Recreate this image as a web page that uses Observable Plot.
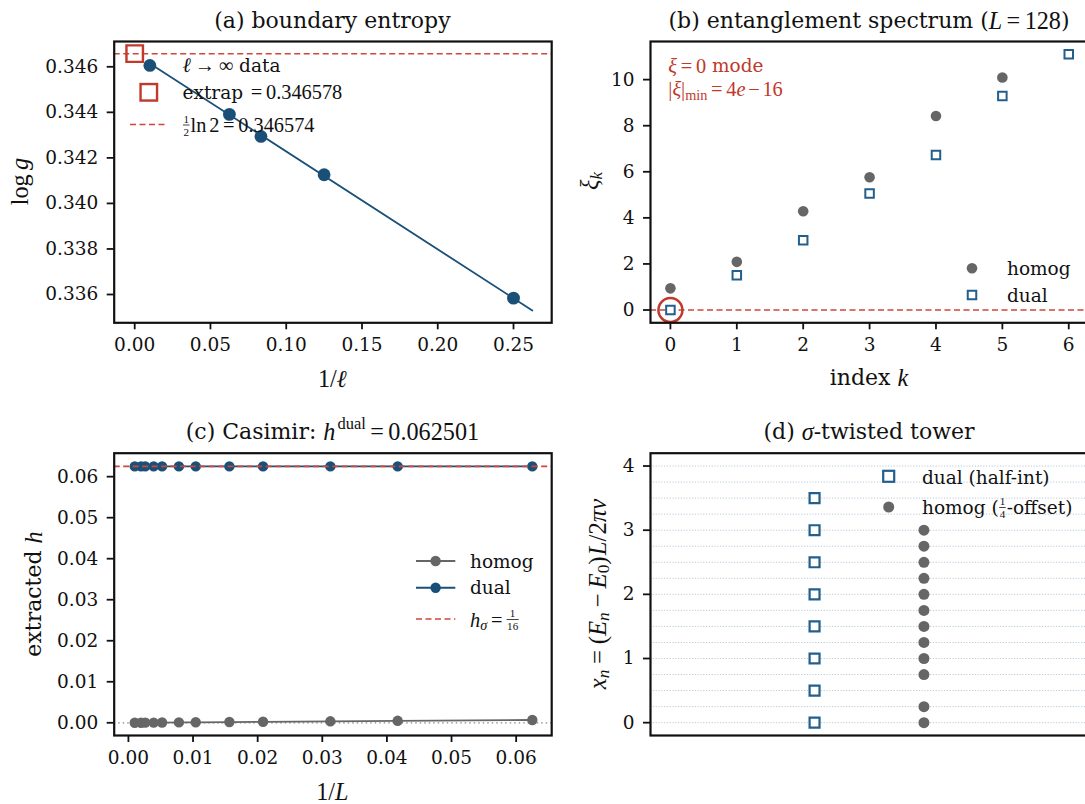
<!DOCTYPE html>
<html><head><meta charset="utf-8">
<script src="https://cdn.jsdelivr.net/npm/d3@7"></script>
<script src="https://cdn.jsdelivr.net/npm/@observablehq/plot@0.6"></script>
<style>
html,body{margin:0;padding:0;background:#fff;overflow:hidden;width:1085px;height:804px}
#fig{position:relative;width:1085px;height:804px;overflow:hidden;background:#fff}
.panel{position:absolute}
.rt{white-space:pre}
</style></head><body><div id="fig"></div>
<script>
// ---------- data ----------
// (a) boundary entropy
const invEll = [0.01, 0.0625, 0.08333, 0.125, 0.25];
const logG = [0.34606, 0.34391, 0.34294, 0.34126, 0.33584];
const fitX = [0.01, 0.2624];
const fitY = [0.34615, 0.33530];
const extrapX = [0];
const extrapY = [0.346578];
const halfLn2 = [0.346574];
const xTicksA = [0, 0.05, 0.10, 0.15, 0.20, 0.25];
const yTicksA = [0.336, 0.338, 0.340, 0.342, 0.344, 0.346];
// (b) entanglement spectrum
const kHomog = [0, 1, 2, 3, 4, 5];
const xiHomog = [0.94, 2.09, 4.29, 5.76, 8.42, 10.09];
const kDual = [0, 1, 2, 3, 4, 5, 6];
const xiDual = [0, 1.51, 3.03, 5.06, 6.73, 9.29, 11.10];
const xTicksB = [0, 1, 2, 3, 4, 5, 6];
const yTicksB = [0, 2, 4, 6, 8, 10];
// (c) Casimir
const sizesL = [16, 24, 32, 48, 64, 96, 128, 192, 256, 384, 512, 1024];
const hHomog = [0.00068, 0.00048, 0.00036, 0.00024, 0.00018, 0.00012, 0.00009, 0.00006, 0.00005, 0.00003, 0.00002, 0.00001];
const hDual = [0.062503, 0.062502, 0.062501, 0.062501, 0.0625, 0.0625, 0.0625, 0.0625, 0.0625, 0.0625, 0.0625, 0.0625];
const hSigma = [0.0625];
const xTicksC = [0, 0.01, 0.02, 0.03, 0.04, 0.05, 0.06];
const yTicksC = [0, 0.01, 0.02, 0.03, 0.04, 0.05, 0.06];
// (d) sigma-twisted tower
const towerDual = [0, 0.5, 1, 1.5, 2, 2.5, 3, 3.5];
const towerHomog = [0, 0.25, 0.75, 1, 1.25, 1.5, 1.75, 2, 2.25, 2.5, 2.75, 3];
const towerColumns = {dual: 0, homog: 1};
const gridD = [0, 0.25, 0.5, 0.75, 1, 1.25, 1.5, 1.75, 2, 2.25, 2.5, 2.75, 3, 3.25, 3.5, 3.75, 4];
const yTicksD = [0, 1, 2, 3, 4];

// ---------- style ----------
const BLUE = "#1a5078", BLUE2 = "#235f8c", GRAY = "#666666", RED = "#c0392b", REDD = "#d0463b", INK = "#111";
const TEXTF = '"DejaVu Serif", serif';
const MATHF = '"Liberation Serif", "DejaVu Serif", serif';
const NS = "http://www.w3.org/2000/svg";
const fig = document.getElementById("fig");
const TS = 7, XP = 8, YP = 9;

function mount(plot, left, top, w, h) {
  const d = document.createElement("div");
  d.className = "panel";
  d.style.left = left + "px"; d.style.top = top + "px";
  d.style.width = w + "px"; d.style.height = h + "px";
  d.appendChild(plot);
  fig.appendChild(d);
  plot.style.maxWidth = "none";
  d3.select(plot).selectAll('[aria-label$="axis"] path, [aria-label$="axis"] line, [aria-label$="tick"] path, [aria-label$="tick"] line')
    .attr("stroke-width", 1.8).attr("stroke", INK);
  return {svg: plot, ox: left, oy: top};
}
const baseStyle = {fontFamily: TEXTF, fontSize: "18.5px", background: "transparent", overflow: "visible", color: INK};

function el(name, attrs, parent) {
  const e = document.createElementNS(NS, name);
  for (const k in attrs) e.setAttribute(k, attrs[k]);
  parent.appendChild(e);
  return e;
}
function txt(g, t, attrs) {
  const e = el("text", Object.assign({"text-anchor": "start", "dominant-baseline": "central", class: "rt"}, attrs), g);
  e.textContent = t;
  return e;
}
function rich(P, gx, gy, segs, o = {}) {
  const size = o.size || 18.5, anchor = o.anchor || "start", color = o.color || INK;
  const g = el("g", {"text-anchor": "start"}, P.svg);
  let x = 0;
  for (const s of segs) {
    if (s.sp !== undefined) { x += s.sp * size; continue; }
    if (s.frac) {
      const fs = size * 0.6;
      const n = txt(g, s.frac[0], {"font-family": MATHF, "font-size": fs, fill: color, y: -size * 0.33});
      const d = txt(g, s.frac[1], {"font-family": MATHF, "font-size": fs, fill: color, y: size * 0.37});
      const wn = n.getComputedTextLength(), wd = d.getComputedTextLength(), w = Math.max(wn, wd);
      n.setAttribute("x", x + 1 + (w - wn) / 2);
      d.setAttribute("x", x + 1 + (w - wd) / 2);
      el("line", {x1: x + 0.5, x2: x + w + 1.5, y1: 0, y2: 0, stroke: color, "stroke-width": 0.8}, g);
      x += w + 2.5; continue;
    }
    const fs = size * (s.k || 1) * (s.m ? 1.1 : 1);
    const e = txt(g, s.t, {"font-family": s.m ? MATHF : TEXTF, "font-size": fs, fill: color, x: x, y: (s.dy || 0) * size});
    if (s.i) e.setAttribute("font-style", "italic");
    x += e.getComputedTextLength();
  }
  const shift = anchor === "middle" ? -x / 2 : anchor === "end" ? -x : 0;
  const tx = gx - P.ox, ty = gy - P.oy;
  if (o.rotate) g.setAttribute("transform", `translate(${tx},${ty}) rotate(-90) translate(${shift},0)`);
  else g.setAttribute("transform", `translate(${tx + shift},${ty})`);
}
function circleM(P, gx, gy, r, fill) { el("circle", {cx: gx - P.ox, cy: gy - P.oy, r, fill}, P.svg); }
function squareM(P, gx, gy, side, stroke, sw, fill = "none") { el("rect", {x: gx - P.ox - side / 2, y: gy - P.oy - side / 2, width: side, height: side, stroke, "stroke-width": sw, fill}, P.svg); }
function lineM(P, x1, x2, gy, stroke, sw, dash) { const l = el("line", {x1: x1 - P.ox, x2: x2 - P.ox, y1: gy - P.oy, y2: gy - P.oy, stroke, "stroke-width": sw}, P.svg); if (dash) l.setAttribute("stroke-dasharray", dash); }

// ---------- panel (a) ----------
const dataA = invEll.map((x, i) => ({x, y: logG[i]}));
const fitA = fitX.map((x, i) => ({x, y: fitY[i]}));
const extA = extrapX.map((x, i) => ({x, y: extrapY[i]}));
const plotA = Plot.plot({
  width: 560, height: 400, marginLeft: 113.7, marginRight: 8.8, marginTop: 41, marginBottom: 77.7,
  x: {domain: [-0.01353, 0.2752], ticks: xTicksA, tickFormat: d3.format(".2f"), tickSize: TS, tickPadding: XP, label: null},
  y: {domain: [0.334757, 0.347111], ticks: yTicksA, tickFormat: d3.format(".3f"), tickSize: TS, tickPadding: YP, label: null},
  style: baseStyle,
  marks: [
    Plot.ruleY(halfLn2, {stroke: REDD, strokeWidth: 1.7, strokeDasharray: "6,3.5"}),
    Plot.line(fitA, {x: "x", y: "y", stroke: BLUE, strokeWidth: 1.8}),
    Plot.dot(dataA, {x: "x", y: "y", r: 6.4, fill: BLUE}),
    Plot.dot(extA, {x: "x", y: "y", symbol: "square", r: 9.3, stroke: RED, strokeWidth: 2.4, fill: "none"}),
    Plot.frame({stroke: INK, strokeWidth: 2.2})
  ]
});
const PA = mount(plotA, 0, 0, 560, 400);
rich(PA, 332.4, 20.5, [{t: "(a) boundary entropy"}], {size: 22, anchor: "middle"});
rich(PA, 332.4, 378, [{t: "1/", m: 1}, {t: "ℓ", m: 1, i: 1}], {size: 22, anchor: "middle"});
rich(PA, 19.5, 181.6, [{t: "log", m: 1}, {sp: 0.2}, {t: "g", m: 1, i: 1}], {size: 22, anchor: "middle", rotate: 1});
rich(PA, 182.5, 65, [{t: "ℓ", m: 1, i: 1}, {sp: 0.2}, {t: "→", m: 1}, {sp: 0.2}, {t: "∞", m: 1}, {t: " data"}]);
squareM(PA, 148.8, 92.3, 16.5, RED, 2.4);
rich(PA, 182.5, 92.3, [{t: "extrap "}, {sp: 0.1}, {t: "=", m: 1}, {sp: 0.2}, {t: "0.346578", m: 1}]);
lineM(PA, 130, 167, 124.5, REDD, 1.7, "6,3.5");
rich(PA, 182.5, 125, [{frac: ["1", "2"]}, {t: "ln", m: 1}, {sp: 0.15}, {t: "2", m: 1}, {sp: 0.2}, {t: "=", m: 1}, {sp: 0.2}, {t: "0.346574", m: 1}]);

// ---------- panel (b) ----------
const homB = kHomog.map((k, i) => ({k, xi: xiHomog[i]}));
const dualB = kDual.map((k, i) => ({k, xi: xiDual[i]}));
const plotB = Plot.plot({
  width: 560, height: 400, marginLeft: 105, marginRight: 17.5, marginTop: 41, marginBottom: 77.7,
  x: {domain: [-0.3, 6.29], ticks: xTicksB, tickFormat: d3.format("d"), tickSize: TS, tickPadding: XP, label: null},
  y: {domain: [-0.555, 11.655], ticks: yTicksB, tickFormat: d3.format("d"), tickSize: TS, tickPadding: YP, label: null},
  style: baseStyle,
  marks: [
    Plot.ruleY([0], {stroke: REDD, strokeWidth: 1.7, strokeDasharray: "6,3.5"}),
    Plot.dot(homB, {x: "k", y: "xi", r: 5.3, fill: GRAY}),
    Plot.dot(dualB, {x: "k", y: "xi", symbol: "square", r: 4.8, stroke: BLUE2, strokeWidth: 2, fill: "white"}),
    Plot.dot(dualB.slice(0, 1), {x: "k", y: "xi", r: 12, stroke: RED, strokeWidth: 2.5, fill: "none"}),
    Plot.frame({stroke: INK, strokeWidth: 2.2})
  ]
});
const PB = mount(plotB, 545, 0, 560, 400);
rich(PB, 869, 20.5, [{t: "(b) entanglement spectrum ("}, {t: "L", m: 1, i: 1}, {sp: 0.2}, {t: "=", m: 1}, {sp: 0.2}, {t: "128", m: 1}, {t: ")"}], {size: 22, anchor: "middle"});
rich(PB, 869, 377.7, [{t: "index "}, {t: "k", m: 1, i: 1}], {size: 22, anchor: "middle"});
rich(PB, 589.8, 181, [{t: "ξ", m: 1, i: 1}, {t: "k", m: 1, i: 1, k: 0.7, dy: 0.3}], {size: 22, anchor: "middle", rotate: 1});
rich(PB, 668.3, 65.7, [{t: "ξ", m: 1, i: 1}, {sp: 0.2}, {t: "=", m: 1}, {sp: 0.2}, {t: "0", m: 1}, {t: " mode"}], {color: RED});
rich(PB, 668.3, 89.3, [{t: "|", m: 1}, {t: "ξ", m: 1, i: 1}, {t: "|", m: 1}, {t: "min", m: 1, k: 0.7, dy: 0.3}, {sp: 0.2}, {t: "=", m: 1}, {sp: 0.2}, {t: "4", m: 1}, {t: "e", m: 1, i: 1}, {sp: 0.15}, {t: "−", m: 1}, {sp: 0.15}, {t: "16", m: 1}], {color: RED});
circleM(PB, 972, 268.3, 5.3, GRAY);
squareM(PB, 972, 295, 8.5, BLUE2, 2, "white");
rich(PB, 1007, 268.3, [{t: "homog"}]);
rich(PB, 1007, 295, [{t: "dual"}]);

// ---------- panel (c) ----------
const homC = sizesL.map((L, i) => ({x: 1 / L, h: hHomog[i]}));
const dualC = sizesL.map((L, i) => ({x: 1 / L, h: hDual[i]}));
const plotC = Plot.plot({
  width: 560, height: 404, marginLeft: 113.7, marginRight: 8.8, marginTop: 52.7, marginBottom: 69,
  x: {domain: [-0.0022, 0.0655], ticks: xTicksC, tickFormat: d3.format(".2f"), tickSize: TS, tickPadding: XP, label: null},
  y: {domain: [-0.0031, 0.06572], ticks: yTicksC, tickFormat: d3.format(".2f"), tickSize: TS, tickPadding: YP, label: null},
  style: baseStyle,
  marks: [
    Plot.ruleY([0], {stroke: "#888", strokeWidth: 1.3, strokeDasharray: "1.5,3"}),
    Plot.line(homC, {x: "x", y: "h", stroke: GRAY, strokeWidth: 1.8}),
    Plot.dot(homC, {x: "x", y: "h", r: 5.2, fill: GRAY}),
    Plot.line(dualC, {x: "x", y: "h", stroke: BLUE, strokeWidth: 1.8}),
    Plot.dot(dualC, {x: "x", y: "h", r: 5.2, fill: BLUE}),
    Plot.ruleY(hSigma, {stroke: REDD, strokeWidth: 1.7, strokeDasharray: "6,3.5"}),
    Plot.frame({stroke: INK, strokeWidth: 2.2})
  ]
});
const PC = mount(plotC, 0, 400, 560, 404);
rich(PC, 332.4, 431.5, [{t: "(c) Casimir: "}, {t: "h", m: 1, i: 1}, {sp: 0.1}, {t: "dual", m: 1, k: 0.68, dy: -0.38}, {sp: 0.2}, {t: "=", m: 1}, {sp: 0.2}, {t: "0.062501", m: 1}], {size: 22, anchor: "middle"});
rich(PC, 332.4, 791.5, [{t: "1/", m: 1}, {t: "L", m: 1, i: 1}], {size: 22, anchor: "middle"});
rich(PC, 33.5, 594, [{t: "extracted "}, {t: "h", m: 1, i: 1}], {size: 22, anchor: "middle", rotate: 1});
lineM(PC, 416, 455.3, 561, GRAY, 2);
circleM(PC, 435.6, 561, 5.2, GRAY);
lineM(PC, 416, 455.3, 587.7, BLUE, 2);
circleM(PC, 435.6, 587.7, 5.2, BLUE);
lineM(PC, 416, 455.3, 619, REDD, 1.7, "6,3.5");
rich(PC, 470, 561, [{t: "homog"}]);
rich(PC, 470, 587.7, [{t: "dual"}]);
rich(PC, 470, 619.5, [{t: "h", m: 1, i: 1}, {t: "σ", m: 1, i: 1, k: 0.7, dy: 0.3}, {sp: 0.2}, {t: "=", m: 1}, {sp: 0.2}, {frac: ["1", "16"]}]);

// ---------- panel (d) ----------
const dualD = towerDual.map(v => ({c: towerColumns.dual, v}));
const homD = towerHomog.map(v => ({c: towerColumns.homog, v}));
const plotD = Plot.plot({
  width: 560, height: 404, marginLeft: 105, marginRight: 17.5, marginTop: 52.7, marginBottom: 69,
  x: {domain: [-1.5, 2.5], axis: null},
  y: {domain: [-0.2, 4.2], ticks: yTicksD, tickFormat: d3.format("d"), tickSize: TS, tickPadding: YP, label: null},
  style: baseStyle,
  marks: [
    Plot.ruleY(gridD, {stroke: "#b9cad8", strokeWidth: 1, strokeDasharray: "1.2,1.6"}),
    Plot.dot(dualD, {x: "c", y: "v", symbol: "square", r: 5.6, stroke: BLUE2, strokeWidth: 2.2, fill: "white"}),
    Plot.dot(homD, {x: "c", y: "v", r: 5.5, fill: GRAY}),
    Plot.frame({stroke: INK, strokeWidth: 2.2})
  ]
});
const PD = mount(plotD, 545, 400, 560, 404);
rich(PD, 869, 431.7, [{t: "(d) "}, {t: "σ", m: 1, i: 1}, {t: "-twisted tower"}], {size: 22, anchor: "middle"});
rich(PD, 597, 594, [
  {t: "x", m: 1, i: 1}, {t: "n", m: 1, i: 1, k: 0.7, dy: 0.3}, {sp: 0.25}, {t: "=", m: 1}, {sp: 0.25},
  {t: "(", m: 1}, {t: "E", m: 1, i: 1}, {t: "n", m: 1, i: 1, k: 0.7, dy: 0.3}, {sp: 0.22}, {t: "−", m: 1}, {sp: 0.22},
  {t: "E", m: 1, i: 1}, {t: "0", m: 1, k: 0.7, dy: 0.3}, {t: ")", m: 1}, {sp: 0.05}, {t: "L", m: 1, i: 1}, {t: "/2", m: 1}, {t: "π", m: 1, i: 1}, {t: "v", m: 1, i: 1}
], {size: 22.5, anchor: "middle", rotate: 1});
squareM(PD, 888.7, 476.3, 11, BLUE2, 2.2, "white");
circleM(PD, 888.7, 507, 5.5, GRAY);
rich(PD, 922, 477, [{t: "dual (half-int)"}]);
rich(PD, 922, 507.5, [{t: "homog ("}, {frac: ["1", "4"]}, {t: "-offset)"}]);
</script></body></html>
